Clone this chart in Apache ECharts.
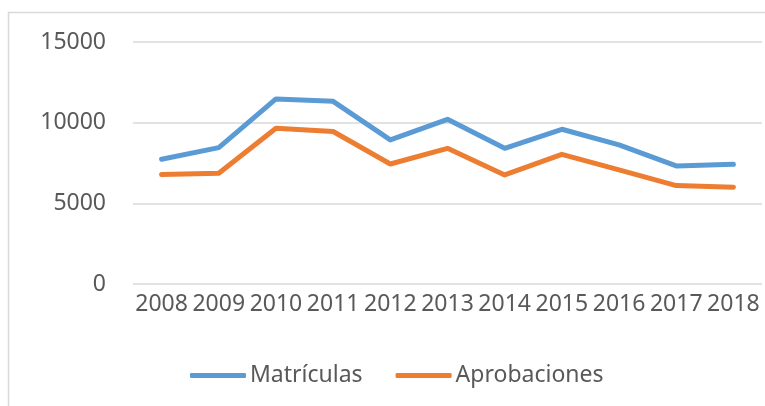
<!DOCTYPE html>
<html>
<head>
<meta charset="utf-8">
<script src="https://cdn.jsdelivr.net/npm/echarts@6/dist/echarts.min.js"></script>
<style>
html,body{margin:0;padding:0;background:#fff;}
#chart{width:765px;height:406px;}
</style>
</head>
<body>
<div id="chart"></div>
<script>
var years = ['2008','2009','2010','2011','2012','2013','2014','2015','2016','2017','2018'];
var matriculas = [7730, 8450, 11470, 11320, 8930, 10210, 8410, 9590, 8620, 7320, 7420];
var aprobaciones = [6780, 6860, 9650, 9450, 7440, 8410, 6760, 8040, 7070, 6100, 6000];
var yTicks = [0, 5000, 10000, 15000];

var FONT = '"Noto Sans", sans-serif';
var TXT = '#595959';

var chart = echarts.init(document.getElementById('chart'), null, {renderer: 'canvas'});
chart.setOption({
  animation: false,
  backgroundColor: '#ffffff',
  graphic: [{
    type: 'rect',
    shape: {x: 8.5, y: 12.5, width: 900, height: 600},
    style: {fill: 'none', stroke: '#d9d9d9', lineWidth: 1.5},
    silent: true
  }],
  grid: {left: 133, right: 3, top: 42, bottom: 122, containLabel: false},
  legend: {
    data: ['Matrículas', 'Aprobaciones'],
    bottom: 14,
    left: 185,
    icon: 'roundRect',
    itemWidth: 56,
    itemHeight: 5,
    itemGap: 33,
    textStyle: {color: TXT, fontSize: 23, fontFamily: FONT, padding: [0, 0, 0, -1]}
  },
  xAxis: {
    type: 'category',
    data: years,
    boundaryGap: true,
    axisLine: {show: false},
    axisTick: {show: false},
    axisLabel: {color: TXT, fontSize: 23, fontFamily: FONT, margin: 9, interval: 0}
  },
  yAxis: {
    type: 'value',
    min: yTicks[0],
    max: yTicks[yTicks.length - 1],
    interval: yTicks[1] - yTicks[0],
    axisLine: {show: false},
    axisTick: {show: false},
    axisLabel: {color: TXT, fontSize: 23, fontFamily: FONT, margin: 27,
      formatter: function (v) { return String(v); }},
    splitLine: {lineStyle: {color: '#d9d9d9', width: 1.5}}
  },
  series: [{
    name: 'Matrículas',
    type: 'line',
    data: matriculas,
    symbol: 'none',
    color: '#5B9BD5',
    lineStyle: {color: '#5B9BD5', width: 5, cap: 'round', join: 'round'}
  }, {
    name: 'Aprobaciones',
    type: 'line',
    data: aprobaciones,
    symbol: 'none',
    color: '#ED7D31',
    lineStyle: {color: '#ED7D31', width: 5, cap: 'round', join: 'round'}
  }]
});
</script>
</body>
</html>
